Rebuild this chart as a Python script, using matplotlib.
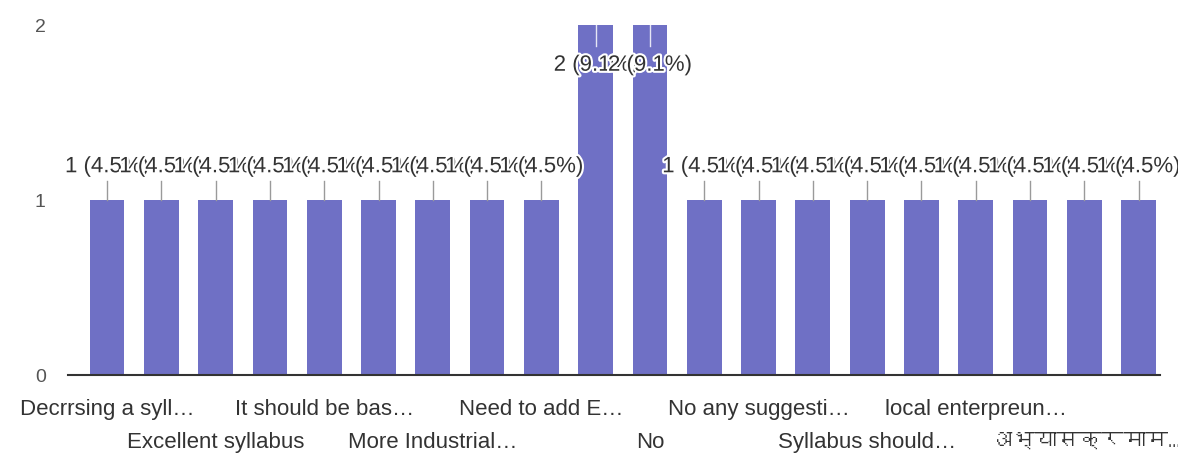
import matplotlib
matplotlib.use("Agg")
import matplotlib.pyplot as plt
import matplotlib.patheffects as path_effects
from matplotlib import font_manager
from matplotlib.ft2font import FT2Font

# --- DATA ---
# None = category whose axis label is hidden in the original
categories = [
    "Decrrsing a syll…", None, "Excellent syllabus", None,
    "It should be bas…", None, "More Industrial…", None,
    "Need to add E…", None, "No", None,
    "No any suggesti…", None, "Syllabus should…", None,
    "local enterpreun…", None, "अभ्यासक्रमाम…", None,
]
counts = [1, 1, 1, 1, 1, 1, 1, 1, 1, 2, 2, 1, 1, 1, 1, 1, 1, 1, 1, 1]
percents = [4.5, 4.5, 4.5, 4.5, 4.5, 4.5, 4.5, 4.5, 4.5, 9.1,
            9.1, 4.5, 4.5, 4.5, 4.5, 4.5, 4.5, 4.5, 4.5, 4.5]
y_ticks = [0, 1, 2]

# --- STYLE ---
BAR_COLOR = "#6f70c5"
TEXT_COLOR = "#333333"
AXIS_TEXT = "#555555"
BASE_FONT = ["Liberation Sans", "DejaVu Sans"]


def find_devanagari_font():
    # matplotlib's default fonts have no Devanagari, look for one that does
    for f in font_manager.fontManager.ttflist:
        try:
            if 0x0905 in FT2Font(f.fname).get_charmap():
                return f.name
        except Exception:
            pass
    return None


plt.rcParams["font.family"] = BASE_FONT

fig = plt.figure(figsize=(11.78, 4.63), dpi=100, facecolor="white")
ax = fig.add_axes([0.0577, 0.190, 0.9273, 0.756])

x = list(range(len(counts)))
ax.bar(x, counts, width=0.64, color=BAR_COLOR, zorder=2)

ax.set_xlim(-0.72, 19.4)
ax.set_ylim(0, 2)

# value labels with leader lines, later labels drawn over earlier ones
halo = [path_effects.withStroke(linewidth=3, foreground="white")]
for i, (c, p) in enumerate(zip(counts, percents)):
    if c >= max(counts):
        ax.plot([i, i], [c, c - 0.12], color="#e6e6f5", lw=1, zorder=3 + i)
        ty = c - 0.23
    else:
        ax.plot([i, i], [c, c + 0.11], color="#9a9a9a", lw=1, zorder=3 + i)
        ty = c + 0.19
    t = ax.text(i, ty, f"{c} ({p}%)", ha="center", va="center",
                fontsize=16, color=TEXT_COLOR, zorder=30 + i, clip_on=False)
    t.set_path_effects(halo)

# axes cosmetics
for s in ["top", "right", "left"]:
    ax.spines[s].set_visible(False)
ax.spines["bottom"].set_color("#333333")
ax.spines["bottom"].set_linewidth(1.5)
ax.spines["bottom"].set_zorder(5)

ax.set_yticks(y_ticks)
ax.tick_params(axis="y", length=0, pad=16, labelsize=14, labelcolor=AXIS_TEXT)

# category labels stagger over two rows
row1 = [i for i, c in enumerate(categories) if c is not None][0::2]
row2 = [i for i, c in enumerate(categories) if c is not None][1::2]
ax.set_xticks(row1)
ax.set_xticklabels([categories[i] for i in row1])
ax.set_xticks(row2, minor=True)
minor_labels = ax.set_xticklabels([categories[i] for i in row2], minor=True)
ax.tick_params(axis="x", which="major", length=0, pad=17, labelsize=16,
               labelcolor=TEXT_COLOR)
ax.tick_params(axis="x", which="minor", length=0, pad=41, labelsize=16,
               labelcolor=TEXT_COLOR)

deva = find_devanagari_font()
if deva:
    for lbl in minor_labels:
        if any("\u0900" <= ch <= "\u097f" for ch in lbl.get_text()):
            lbl.set_family([deva] + BASE_FONT)

fig.savefig("out.png", dpi=100, facecolor="white")
